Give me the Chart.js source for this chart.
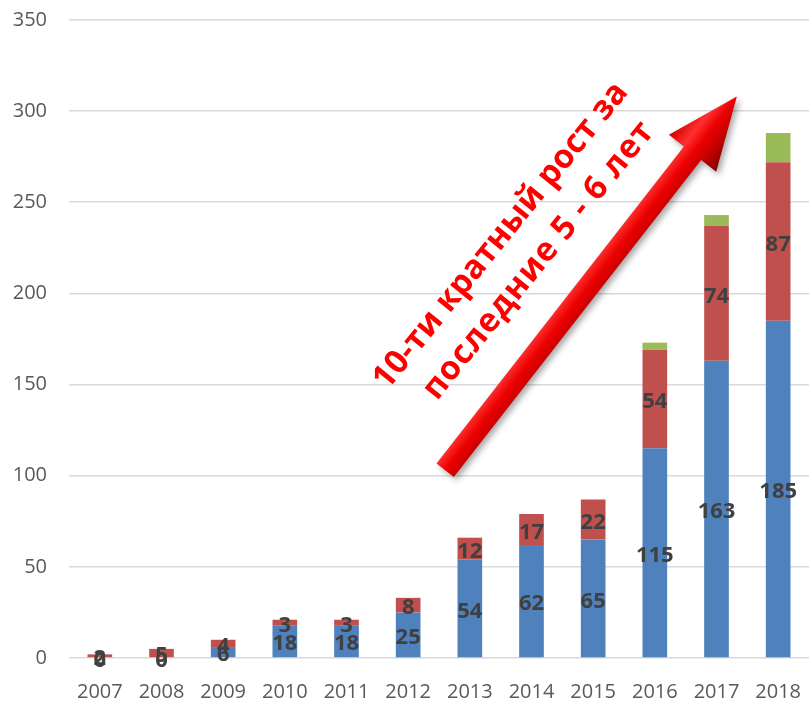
<!DOCTYPE html>
<html>
<head>
<meta charset="utf-8">
<script src="https://cdn.jsdelivr.net/npm/chart.js@4"></script>
<style>
html,body{margin:0;padding:0;background:#fff;}
#wrap{width:809px;height:701px;}
</style>
</head>
<body>
<div id="wrap"><canvas id="growthChart" width="809" height="701"></canvas></div>
<script>
const years = ["2007","2008","2009","2010","2011","2012","2013","2014","2015","2016","2017","2018"];
const blueVals = [0,0,6,18,18,25,54,62,65,115,163,185];
const redVals = [2,5,4,3,3,8,12,17,22,54,74,87];
const greenVals = [0,0,0,0,0,0,0,0,0,4,6,16];
const yTicks = [0,50,100,150,200,250,300,350];

const noteLines = ["10-ти кратный рост за","последние 5 - 6 лет"];

// ===== value labels in the middle of blue/red segments =====
const barLabels = {
id:"barLabels",
afterDatasetsDraw(chart){
const ctx = chart.ctx;
ctx.save();
ctx.font = "bold 22px 'Open Sans'";
ctx.fillStyle = "#404040";
ctx.textAlign = "center";
ctx.textBaseline = "middle";
[0,1].forEach(di=>{
const meta = chart.getDatasetMeta(di);
meta.data.forEach((el,i)=>{
const v = chart.data.datasets[di].data[i];
ctx.fillText(String(v), el.x, (el.y+el.base)/2 + 3);
});
});
ctx.restore();
}
};

// ===== big red arrow + note =====
const growthArrow = {
id:"growthArrow",
afterDatasetsDraw(chart){
const ctx = chart.ctx;
const xs = chart.scales.x, ys = chart.scales.y;
const x0 = xs.getPixelForValue(5.6), y0 = ys.getPixelForValue(103);
const x1 = xs.getPixelForValue(10.33), y1 = ys.getPixelForValue(308);
const ang = Math.atan2(y1-y0, x1-x0);
const len = Math.hypot(x1-x0, y1-y0);
const hw = 11, HW = 30, headLen = 72;

ctx.save();
ctx.translate(x0,y0);
ctx.rotate(ang);
const g = ctx.createLinearGradient(0,-HW,0,HW);
g.addColorStop(0,"#d00000");
g.addColorStop(0.3,"#ff3030");
g.addColorStop(0.5,"#ec0000");
g.addColorStop(0.75,"#c00000");
g.addColorStop(1,"#7a0000");
ctx.shadowColor = "rgba(0,0,0,0.35)";
ctx.shadowBlur = 6;
ctx.shadowOffsetX = 3;
ctx.shadowOffsetY = 3;
ctx.fillStyle = g;
ctx.beginPath();
ctx.moveTo(0,-hw);
ctx.lineTo(len-headLen,-hw);
ctx.lineTo(len-headLen,-HW);
ctx.lineTo(len,0);
ctx.lineTo(len-headLen,HW);
ctx.lineTo(len-headLen,hw);
ctx.lineTo(0,hw);
ctx.closePath();
ctx.fill();
ctx.restore();

const cx = xs.getPixelForValue(6.78), cy = ys.getPixelForValue(224);
ctx.save();
ctx.translate(cx,cy);
ctx.rotate(-51*Math.PI/180);
ctx.font = "bold 33px 'Open Sans'";
ctx.fillStyle = "#ff0000";
ctx.textAlign = "center";
ctx.textBaseline = "middle";
ctx.fillText(noteLines[0],0,-22);
ctx.letterSpacing = "1px";
ctx.fillText(noteLines[1],5,23);
ctx.restore();
}
};

new Chart(document.getElementById("growthChart"),{
type:"bar",
data:{
labels:years,
datasets:[
{label:"Ряд 1",data:blueVals,backgroundColor:"#4f81bd"},
{label:"Ряд 2",data:redVals,backgroundColor:"#c0504d"},
{label:"Ряд 3",data:greenVals,backgroundColor:"#9bbb59"}
]
},
options:{
responsive:false,
animation:false,
layout:{padding:{top:0,right:-2,bottom:0,left:0}},
datasets:{bar:{barPercentage:0.40,categoryPercentage:1}},
plugins:{legend:{display:false},tooltip:{enabled:false}},
scales:{
x:{
stacked:true,
grid:{display:false},
border:{display:false},
ticks:{color:"#595959",font:{family:"Open Sans",size:20},padding:14,maxRotation:0},
afterFit(axis){axis.height = 43; axis.paddingLeft = 0; axis.paddingRight = 0;}
},
y:{
stacked:true,
min:0,max:350,
afterBuildTicks(axis){axis.ticks = yTicks.map(v=>({value:v}));},
afterFit(axis){axis.width = 69; axis.paddingTop = 20; axis.paddingBottom = 0;},
grid:{color:"#d9d9d9",lineWidth:1.6,drawTicks:false},
border:{display:false},
ticks:{color:"#595959",font:{family:"Open Sans",size:20},padding:22}
}
}
},
plugins:[barLabels,growthArrow]
});
</script>
</body>
</html>
